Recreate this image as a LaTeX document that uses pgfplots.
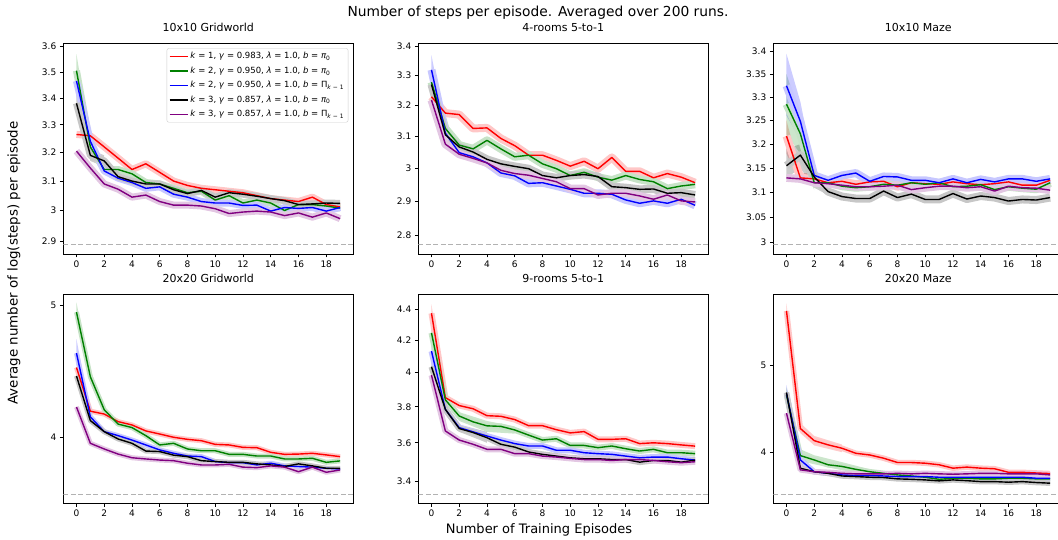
\documentclass[border=0pt]{standalone}
\usepackage{fontspec}
\setmainfont{DejaVu Sans}
\usepackage{pgfplots}
\usepackage{pgfplotstable}
\pgfplotsset{compat=1.18}

\definecolor{mgreen}{HTML}{008000}
\definecolor{mpurple}{HTML}{800080}

% columns: r,g,b,k,p = the five settings in legend order
\pgfplotstableread{
x r g b k p
0 3.265 3.505 3.465 3.380 3.205
1 3.260 3.220 3.240 3.190 3.145
2 3.220 3.140 3.135 3.170 3.090
3 3.180 3.140 3.110 3.115 3.072
4 3.140 3.125 3.095 3.100 3.045
5 3.160 3.095 3.075 3.090 3.052
6 3.130 3.090 3.080 3.090 3.030
7 3.100 3.075 3.055 3.070 3.018
8 3.085 3.060 3.045 3.057 3.018
9 3.075 3.065 3.030 3.068 3.015
10 3.070 3.035 3.025 3.045 3.006
11 3.065 3.050 3.025 3.060 2.990
12 3.060 3.025 3.017 3.055 2.995
13 3.050 3.035 3.018 3.048 2.998
14 3.040 3.025 2.998 3.040 2.995
15 3.035 3.000 3.010 3.033 2.983
16 3.030 3.020 3.007 3.020 2.992
17 3.045 3.020 3.010 3.022 2.978
18 3.020 3.015 2.998 3.025 2.992
19 3.012 3.008 3.010 3.024 2.973
}\tabA
\pgfplotstableread{
x r g b k p
0 3.229 3.278 3.320 3.270 3.218
1 3.175 3.125 3.110 3.105 3.075
2 3.170 3.072 3.048 3.066 3.043
3 3.125 3.060 3.035 3.050 3.030
4 3.127 3.087 3.016 3.027 3.016
5 3.093 3.060 2.985 3.013 2.993
6 3.070 3.035 2.976 3.005 2.983
7 3.040 3.040 2.953 2.998 2.978
8 3.040 3.013 2.955 2.977 2.968
9 3.024 2.998 2.945 2.970 2.958
10 3.006 2.977 2.935 2.977 2.937
11 3.021 2.987 2.923 2.980 2.937
12 2.998 2.972 2.923 2.974 2.918
13 3.033 2.963 2.920 2.943 2.923
14 2.990 2.977 2.903 2.940 2.923
15 2.990 2.965 2.893 2.935 2.915
16 2.970 2.958 2.900 2.936 2.905
17 2.983 2.937 2.893 2.923 2.918
18 2.972 2.945 2.905 2.925 2.900
19 2.955 2.950 2.887 2.918 2.897
}\tabB
\pgfplotstableread{
x r g b k p
0 3.217 3.285 3.325 3.155 3.130
1 3.130 3.222 3.248 3.177 3.128
2 3.128 3.120 3.135 3.132 3.120
3 3.120 3.120 3.125 3.102 3.118
4 3.123 3.113 3.135 3.092 3.115
5 3.117 3.110 3.140 3.088 3.112
6 3.122 3.112 3.123 3.088 3.112
7 3.123 3.117 3.133 3.103 3.113
8 3.112 3.115 3.132 3.090 3.115
9 3.120 3.120 3.125 3.097 3.106
10 3.118 3.117 3.125 3.086 3.110
11 3.117 3.120 3.120 3.086 3.113
12 3.122 3.112 3.128 3.098 3.113
13 3.118 3.113 3.120 3.087 3.110
14 3.116 3.116 3.127 3.093 3.112
15 3.118 3.106 3.122 3.090 3.103
16 3.122 3.112 3.128 3.083 3.113
17 3.115 3.109 3.128 3.086 3.110
18 3.115 3.107 3.123 3.085 3.109
19 3.125 3.120 3.128 3.090 3.105
}\tabC
\pgfplotstableread{
x r g b k p
0 4.500 4.940 4.610 4.436 4.210
1 4.180 4.430 4.140 4.114 3.960
2 4.160 4.190 4.038 4.038 3.922
3 4.107 4.090 4.011 3.989 3.889
4 4.084 4.066 3.982 3.960 3.865
5 4.043 4.011 3.949 3.909 3.857
6 4.022 3.949 3.916 3.905 3.850
7 4.000 3.960 3.894 3.882 3.846
8 3.987 3.922 3.876 3.872 3.829
9 3.978 3.911 3.872 3.846 3.818
10 3.953 3.911 3.840 3.840 3.818
11 3.949 3.887 3.833 3.835 3.822
12 3.933 3.887 3.833 3.835 3.804
13 3.931 3.876 3.818 3.825 3.801
14 3.900 3.876 3.829 3.818 3.812
15 3.887 3.857 3.812 3.808 3.804
16 3.889 3.857 3.808 3.825 3.775
17 3.894 3.861 3.804 3.812 3.804
18 3.883 3.835 3.797 3.797 3.771
19 3.872 3.844 3.792 3.797 3.786
}\tabD
\pgfplotstableread{
x r g b k p
0 4.372 4.245 4.130 4.035 3.985
1 3.853 3.840 3.785 3.785 3.665
2 3.807 3.748 3.683 3.678 3.615
3 3.789 3.715 3.660 3.656 3.592
4 3.750 3.693 3.637 3.628 3.565
5 3.746 3.690 3.615 3.592 3.565
6 3.728 3.670 3.596 3.577 3.542
7 3.694 3.642 3.583 3.551 3.542
8 3.694 3.615 3.583 3.538 3.529
9 3.672 3.622 3.560 3.529 3.524
10 3.654 3.586 3.560 3.520 3.517
11 3.661 3.586 3.547 3.515 3.511
12 3.619 3.574 3.542 3.515 3.511
13 3.619 3.583 3.538 3.511 3.506
14 3.622 3.568 3.529 3.511 3.511
15 3.596 3.556 3.520 3.497 3.511
16 3.600 3.565 3.524 3.506 3.506
17 3.596 3.547 3.524 3.506 3.499
18 3.589 3.547 3.515 3.497 3.494
19 3.582 3.542 3.508 3.508 3.499
}\tabE
\pgfplotstableread{
x r g b k p
0 5.740 4.630 4.650 4.660 4.420
1 4.250 3.966 3.922 3.841 3.824
2 4.120 3.922 3.806 3.806 3.806
3 4.076 3.874 3.790 3.790 3.800
4 4.041 3.858 3.775 3.765 3.790
5 3.990 3.829 3.769 3.759 3.785
6 3.973 3.806 3.769 3.753 3.785
7 3.940 3.790 3.765 3.750 3.785
8 3.897 3.775 3.759 3.737 3.790
9 3.897 3.765 3.759 3.733 3.785
10 3.890 3.753 3.759 3.727 3.790
11 3.874 3.733 3.753 3.718 3.785
12 3.841 3.743 3.753 3.727 3.782
13 3.851 3.743 3.753 3.720 3.785
14 3.841 3.737 3.753 3.711 3.790
15 3.835 3.737 3.753 3.711 3.790
16 3.800 3.743 3.753 3.705 3.785
17 3.800 3.743 3.753 3.711 3.785
18 3.794 3.737 3.743 3.702 3.785
19 3.788 3.737 3.743 3.696 3.775
}\tabF

\pgfplotsset{
  /pgf/number format/assume math mode=true,
  mypanel/.style={
    scale only axis, width=290pt, anchor=south west,
    xmin=-0.95, xmax=19.95,
    xtick={0,2,...,18},
    yminorticks=false,
    tick align=outside, tick pos=left,
    major tick length=3.5pt,
    every tick/.style={black, line width=0.8pt},
    axis line style={line width=0.8pt},
    ticklabel style={font=\fontsize{9}{10}\selectfont},
    title style={at={(0.5,1)}, anchor=base, yshift=5.5pt, font=\fontsize{11}{13}\selectfont},
  },
}

% light band under a mean line (drawn first), then the mean lines
\newcommand{\band}[4]{%
  \addplot[forget plot, color=#3!22, line width=#4, line join=round] table[x=x,y=#2]{#1};
}
\newcommand{\mean}[3]{%
  \addplot[forget plot, color=#3, line width=1.4pt, line join=round] table[x=x,y=#2]{#1};
}
% #1 table, #2 band width
\newcommand{\allseries}[2]{%
  \band{#1}{r}{red}{#2}\band{#1}{g}{mgreen}{#2}\band{#1}{b}{blue}{#2}\band{#1}{k}{black}{#2}\band{#1}{p}{mpurple}{#2}
  \mean{#1}{r}{red}\mean{#1}{g}{mgreen}\mean{#1}{b}{blue}\mean{#1}{k}{black}\mean{#1}{p}{mpurple}
}
% wider band near the start
\newcommand{\wide}[2]{\addplot[forget plot, fill=#1, fill opacity=0.2, draw=none] coordinates {#2};}
\newcommand{\refy}[1]{\addplot[forget plot, draw=black!30, line width=0.9pt, dash pattern=on 5pt off 2.5pt] coordinates {(-0.95,#1) (19.95,#1)};}

\begin{document}
\begin{tikzpicture}
\path[use as bounding box] (0pt,0pt) rectangle (1058pt,540pt);

% ---- row 1 ----
\begin{axis}[mypanel, ymode=log, at={(63.3pt,286pt)}, height=210.7pt,
  title={10x10 Gridworld},
  ymin=2.8584, ymax=3.6136,
  ytick={2.9,3,3.1,3.2,3.3,3.4,3.5,3.6},
  yticklabels={2.9,3,3.1,3.2,3.3,3.4,3.5,3.6},
  legend style={at={(1,1)}, anchor=north east, xshift=-5pt, yshift=-5pt,
    draw=black!20, rounded corners=2pt, fill=white, fill opacity=0.8, text opacity=1,
    font=\fontsize{8.5}{10}\selectfont, inner sep=2pt, row sep=2.5pt, cells={anchor=west}},
  legend image code/.code={\draw[#1] (0pt,0pt) -- (18pt,0pt);},
]
\refy{2.889}
\wide{mgreen}{(0,3.57) (1,3.25) (2,3.15) (2,3.13) (1,3.20) (0,3.47)}
\wide{blue}{(0,3.50) (1,3.26) (2,3.145) (2,3.125) (1,3.21) (0,3.42)}
\wide{black}{(0,3.42) (1,3.21) (2,3.19) (2,3.15) (1,3.17) (0,3.34)}
\allseries{\tabA}{7pt}
\addlegendimage{draw=red, line width=1.5pt}
\addlegendentry{\textit{k} = 1, \textit{γ} = 0.983, \textit{λ} = 1.0, \textit{b} = \textit{π}\textsubscript{0}}
\addlegendimage{draw=mgreen, line width=1.5pt}
\addlegendentry{\textit{k} = 2, \textit{γ} = 0.950, \textit{λ} = 1.0, \textit{b} = \textit{π}\textsubscript{0}}
\addlegendimage{draw=blue, line width=1.5pt}
\addlegendentry{\textit{k} = 2, \textit{γ} = 0.950, \textit{λ} = 1.0, \textit{b} = Π\textsubscript{\textit{k} − 1}}
\addlegendimage{draw=black, line width=1.5pt}
\addlegendentry{\textit{k} = 3, \textit{γ} = 0.857, \textit{λ} = 1.0, \textit{b} = \textit{π}\textsubscript{0}}
\addlegendimage{draw=mpurple, line width=1.5pt}
\addlegendentry{\textit{k} = 3, \textit{γ} = 0.857, \textit{λ} = 1.0, \textit{b} = Π\textsubscript{\textit{k} − 1}}
\end{axis}

\begin{axis}[mypanel, ymode=log, at={(418.3pt,286pt)}, height=210.7pt,
  title={4-rooms 5-to-1},
  ymin=2.7457, ymax=3.412,
  ytick={2.8,2.9,3,3.1,3.2,3.3,3.4},
  yticklabels={2.8,2.9,3,3.1,3.2,3.3,3.4},
]
\refy{2.773}
\wide{blue}{(0,3.37) (1,3.13) (2,3.06) (2,3.04) (1,3.09) (0,3.28)}
\wide{mgreen}{(0,3.31) (1,3.14) (1,3.11) (0,3.25)}
\allseries{\tabB}{8pt}
\end{axis}

\begin{axis}[mypanel, ymode=log, at={(773.3pt,286pt)}, height=210.7pt,
  title={10x10 Maze},
  ymin=2.9778, ymax=3.4187,
  ytick={3,3.05,3.1,3.15,3.2,3.25,3.3,3.35,3.4},
  yticklabels={3,3.05,3.1,3.15,3.2,3.25,3.3,3.35,3.4},
]
\refy{2.997}
\wide{red}{(0,3.25) (1,3.14) (2,3.14) (2,3.12) (1,3.12) (0,3.18)}
\wide{mgreen}{(0,3.35) (1,3.26) (2,3.135) (2,3.105) (1,3.18) (0,3.22)}
\wide{blue}{(0,3.395) (1,3.29) (2,3.145) (2,3.12) (1,3.21) (0,3.26)}
\wide{black}{(0,3.19) (1,3.20) (2,3.15) (3,3.11) (3,3.095) (2,3.11) (1,3.15) (0,3.13)}
\allseries{\tabC}{8pt}
\end{axis}

% ---- row 2 ----
\begin{axis}[mypanel, ymode=log, at={(63.3pt,36.7pt)}, height=209pt,
  title={20x20 Gridworld},
  ymin=3.579, ymax=5.091,
  ytick={4,5}, yticklabels={4,5},
]
\refy{3.634}
\wide{mgreen}{(0,5.02) (1,4.48) (2,4.22) (2,4.16) (1,4.38) (0,4.86)}
\wide{blue}{(0,4.72) (1,4.17) (1,4.11) (0,4.52)}
\allseries{\tabD}{5pt}
\end{axis}

\begin{axis}[mypanel, ymode=log, at={(418.3pt,36.7pt)}, height=209pt,
  title={9-rooms 5-to-1},
  ymin=3.288, ymax=4.498,
  ytick={3.4,3.6,3.8,4,4.2,4.4}, yticklabels={3.4,3.6,3.8,4,4.2,4.4},
]
\refy{3.333}
\wide{red}{(0,4.43) (1,3.87) (1,3.84) (0,4.32)}
\wide{mgreen}{(0,4.29) (1,3.86) (2,3.77) (4,3.72) (6,3.69) (6,3.65) (4,3.66) (2,3.72) (1,3.82) (0,4.20)}
\wide{blue}{(0,4.18) (1,3.80) (1,3.77) (0,4.08)}
\wide{black}{(0,4.07) (1,3.80) (2,3.70) (4,3.66) (4,3.60) (2,3.66) (1,3.77) (0,3.98)}
\allseries{\tabE}{6pt}
\end{axis}

\begin{axis}[mypanel, ymode=log, at={(773.3pt,36.7pt)}, height=209pt,
  title={20x20 Maze},
  ymin=3.511, ymax=5.99,
  ytick={4,5}, yticklabels={4,5},
]
\refy{3.592}
\wide{red}{(0,5.85) (1,4.31) (2,4.17) (4,4.08) (4,4.00) (2,4.07) (1,4.20) (0,5.66)}
\wide{mgreen}{(0,4.72) (1,4.03) (2,3.97) (4,3.90) (6,3.83) (6,3.78) (4,3.82) (2,3.88) (1,3.91) (0,4.55)}
\wide{blue}{(0,4.75) (1,3.97) (2,3.83) (2,3.78) (1,3.88) (0,4.58)}
\allseries{\tabF}{5.5pt}
\end{axis}

\node[anchor=base, font=\fontsize{13.8}{16}\selectfont] at (538pt,523.5pt) {Number of steps per episode. Averaged over 200 runs.};
\node[rotate=90, font=\fontsize{13.4}{16}\selectfont] at (14pt,277pt) {Average number of log(steps) per episode};
\node[anchor=base, font=\fontsize{13}{15}\selectfont] at (539pt,6pt) {Number of Training Episodes};
\end{tikzpicture}
\end{document}
